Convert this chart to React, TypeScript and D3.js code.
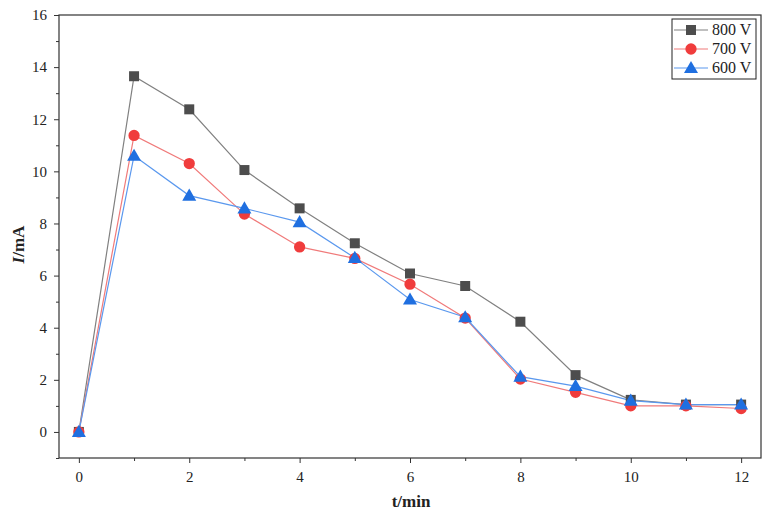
import { useEffect, useRef } from 'react';
import * as d3 from 'd3';

const times = [0, 1, 2, 3, 4, 5, 6, 7, 8, 9, 10, 11, 12];
const v800 = [0, 13.65, 12.38, 10.05, 8.58, 7.24, 6.08, 5.6, 4.23, 2.18, 1.23, 1.05, 1.05];
const v700 = [0, 11.38, 10.3, 8.36, 7.1, 6.66, 5.67, 4.37, 2.03, 1.52, 1.0, 1.0, 0.9];
const v600 = [0, 10.6, 9.07, 8.58, 8.05, 6.68, 5.08, 4.4, 2.12, 1.76, 1.2, 1.05, 1.05];
const xTicks = [0, 2, 4, 6, 8, 10, 12];
const yTicks = [0, 2, 4, 6, 8, 10, 12, 14, 16];

const series = [
  { label: '800 V', values: v800, marker: 'square', fill: '#4d4d4d', line: '#808080' },
  { label: '700 V', values: v700, marker: 'circle', fill: '#f03c3c', line: '#f07a7a' },
  { label: '600 V', values: v600, marker: 'triangle', fill: '#1f6fe0', line: '#5a98ee' },
];

const width = 771;
const height = 516;
const font = 'Liberation Serif, DejaVu Serif, serif';

export default function App() {
  const svgRef = useRef<SVGSVGElement>(null);

  useEffect(() => {
    const svg = d3.select(svgRef.current);
    svg.selectAll('*').remove();

    const left = 59, right = 761, top = 15, bottom = 458;
    const x = d3.scaleLinear().domain([-0.36, 12.36]).range([left, right]);
    const y = d3.scaleLinear().domain([-1, 16]).range([bottom, top]);

    // frame
    svg.append('rect')
      .attr('x', left).attr('y', top)
      .attr('width', right - left).attr('height', bottom - top)
      .attr('fill', 'none').attr('stroke', '#333').attr('stroke-width', 1.2);

    // x axis
    const xAxis = svg.append('g').attr('transform', `translate(0,${bottom})`);
    xAxis.call(d3.axisBottom(x).tickValues(d3.range(0, 13, 1)).tickSize(5).tickFormat(d => (xTicks.includes(+d) ? String(d) : '')));
    xAxis.attr('font-family', font).attr('font-size', 15);
    xAxis.select('.domain').remove();
    xAxis.selectAll('.tick line').attr('stroke', '#333')
      .attr('y2', (d: any) => (xTicks.includes(d) ? 5 : 3));
    xAxis.selectAll('.tick text').attr('dy', '0.71em').attr('y', 13).attr('fill', '#222');

    // y axis
    const yAxis = svg.append('g').attr('transform', `translate(${left},0)`);
    yAxis.call(d3.axisLeft(y).tickValues(d3.range(-1, 17, 1)).tickSize(5).tickFormat(d => (yTicks.includes(+d) ? String(d) : '')));
    yAxis.attr('font-family', font).attr('font-size', 15);
    yAxis.select('.domain').remove();
    yAxis.selectAll('.tick line').attr('stroke', '#333')
      .attr('x2', (d: any) => (yTicks.includes(d) ? -5 : -3));
    yAxis.selectAll('.tick text').attr('x', -12).attr('fill', '#222');

    // axis titles
    svg.append('text')
      .attr('x', 411).attr('y', 507)
      .attr('text-anchor', 'middle')
      .attr('font-family', font).attr('font-size', 17).attr('font-weight', 'bold')
      .attr('fill', '#222')
      .text('t/min');

    const yTitle = svg.append('text')
      .attr('transform', `translate(24,${(top + bottom) / 2 + 8}) rotate(-90)`)
      .attr('text-anchor', 'middle')
      .attr('font-family', font).attr('font-size', 17).attr('font-weight', 'bold')
      .attr('fill', '#222');
    yTitle.append('tspan').attr('font-style', 'italic').text('I');
    yTitle.append('tspan').text('/mA');

    const symbolFor = (m: string) =>
      m === 'square' ? d3.symbol(d3.symbolSquare, 100)
        : m === 'circle' ? d3.symbol(d3.symbolCircle, 100)
          : d3.symbol(d3.symbolTriangle, 85);

    const line = d3.line<number>()
      .x((_, i) => x(times[i]))
      .y(d => y(d));

    series.forEach(s => {
      svg.append('path')
        .attr('d', line(s.values) || '')
        .attr('fill', 'none')
        .attr('stroke', s.line)
        .attr('stroke-width', 1.2);
    });

    series.forEach(s => {
      const sym = symbolFor(s.marker);
      svg.append('g').selectAll('path')
        .data(s.values)
        .enter().append('path')
        .attr('d', sym() || '')
        .attr('transform', (d, i) => `translate(${x(times[i])},${y(d) + (s.marker === 'triangle' ? 1 : 0)})`)
        .attr('fill', s.fill);
    });

    // legend
    const lg = svg.append('g').attr('transform', 'translate(672,19)');
    lg.append('rect')
      .attr('width', 84).attr('height', 60)
      .attr('fill', '#fff').attr('stroke', '#222').attr('stroke-width', 1);
    series.forEach((s, i) => {
      const cy = 11 + i * 19;
      lg.append('line')
        .attr('x1', 2).attr('x2', 36).attr('y1', cy).attr('y2', cy)
        .attr('stroke', s.line).attr('stroke-width', 1.2);
      lg.append('path')
        .attr('d', symbolFor(s.marker)() || '')
        .attr('transform', `translate(19,${cy + (s.marker === 'triangle' ? 1 : 0)})`)
        .attr('fill', s.fill);
      lg.append('text')
        .attr('x', 40).attr('y', cy + 5)
        .attr('font-family', font).attr('font-size', 16)
        .attr('fill', '#222')
        .text(s.label);
    });
  }, []);

  return (
    <div style={{ position: 'absolute', left: 0, top: 0 }}>
      <svg ref={svgRef} width={width} height={height} style={{ display: 'block', background: '#fff' }} />
    </div>
  );
}
